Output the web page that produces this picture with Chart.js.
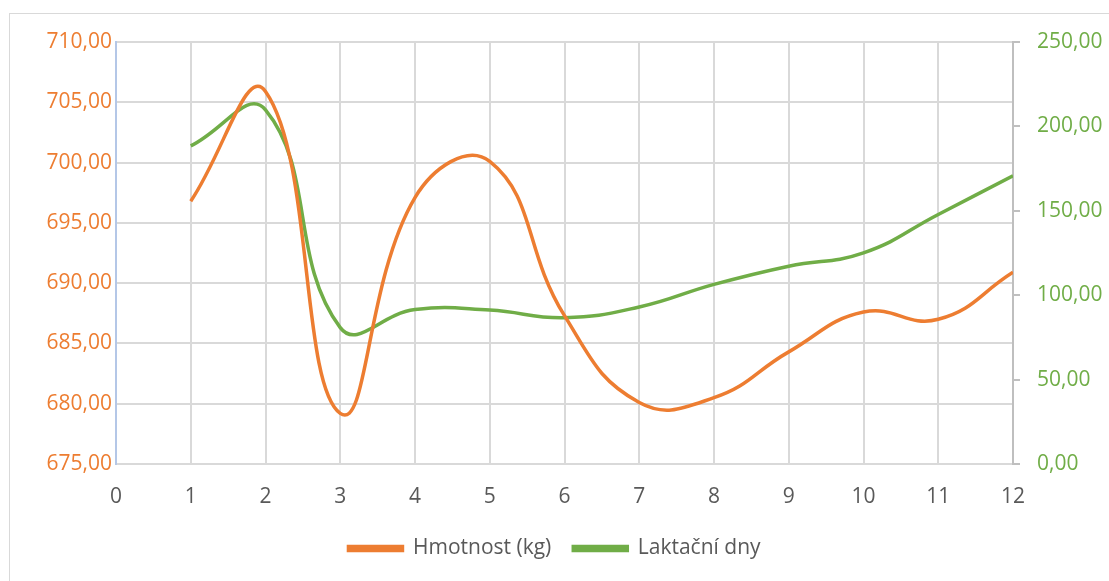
<!DOCTYPE html>
<html>
<head>
<meta charset="utf-8">
<script src="https://cdn.jsdelivr.net/npm/chart.js@4"></script>
<style>
  html, body { margin: 0; padding: 0; background: #fff; overflow: hidden; }
  #wrap { position: relative; width: 1109px; height: 581px; }
  #frame { position: absolute; left: 9px; top: 13px; width: 1120px; height: 600px; border: 1px solid #d9d9d9; }
  canvas { position: absolute; left: 0; top: 0; }
</style>
</head>
<body>
<div id="wrap">
  <div id="frame"></div>
  <canvas id="chart" width="1109" height="581"></canvas>
</div>
<script>
// ===== Data =====
const months = [1, 2, 3, 4, 5, 6, 7, 8, 9, 10, 11, 12];
const weight = [696.8, 705.9, 679.2, 697.1, 700.1, 687.3, 680.1, 680.5, 684.3, 687.6, 687.0, 690.9];
const lactationDays = [188.5, 209.8, 80.8, 91.5, 91.2, 86.7, 93.0, 106.4, 117.2, 125.1, 147.8, 170.8];

const orange = "#ED7D31";
const green = "#70AD47";
const grid = "#D9D9D9";
const textGrey = "#595959";
const fontFamily = "'Open Sans', 'Noto Sans', sans-serif";

const fmt = (v) => v.toFixed(2).replace(".", ",");

const toPoints = (ys) => months.map((m, i) => ({ x: m, y: ys[i] }));

Chart.defaults.font.family = fontFamily;
Chart.defaults.font.size = 21;

new Chart(document.getElementById("chart").getContext("2d"), {
  type: "line",
  data: {
    datasets: [
      {
        label: "Hmotnost (kg)",
        data: toPoints(weight),
        borderColor: orange,
        backgroundColor: orange,
        borderWidth: 3.5,
        pointRadius: 0,
        tension: 0.45,
        yAxisID: "y"
      },
      {
        label: "Laktační dny",
        data: toPoints(lactationDays),
        borderColor: green,
        backgroundColor: green,
        borderWidth: 3.5,
        pointRadius: 0,
        tension: 0.45,
        yAxisID: "y1"
      }
    ]
  },
  options: {
    responsive: false,
    animation: false,
    layout: { padding: { top: 42, bottom: 12, left: 0, right: 0 } },
    plugins: {
      tooltip: { enabled: false },
      legend: {
        position: "bottom",
        labels: {
          color: textGrey,
          boxWidth: 54,
          boxHeight: 4,
          padding: 22,
          font: { size: 21 }
        }
      }
    },
    scales: {
      x: {
        type: "linear",
        min: 0,
        max: 12,
        ticks: { stepSize: 1, color: textGrey, padding: 20, font: { size: 21 } },
        grid: { color: grid, lineWidth: 2, tickLength: 0 },
        border: { color: grid, width: 2 },
        afterFit: (s) => { s.height = 52; }
      },
      y: {
        position: "left",
        min: 675,
        max: 710,
        ticks: { stepSize: 5, color: orange, padding: 4, callback: (v) => fmt(v), font: { size: 21 } },
        grid: { color: grid, lineWidth: 2, tickLength: 0 },
        border: { color: "#B4C7E7", width: 2 },
        afterFit: (s) => { s.width = 116; }
      },
      y1: {
        position: "right",
        min: 0,
        max: 250,
        ticks: { stepSize: 50, color: green, padding: 17, callback: (v) => fmt(v), font: { size: 21 } },
        grid: { drawOnChartArea: false, color: "#BFBFBF", lineWidth: 2, tickLength: 7 },
        border: { color: "#BFBFBF", width: 2 },
        afterFit: (s) => { s.width = 96; }
      }
    }
  }
});
</script>
</body>
</html>
